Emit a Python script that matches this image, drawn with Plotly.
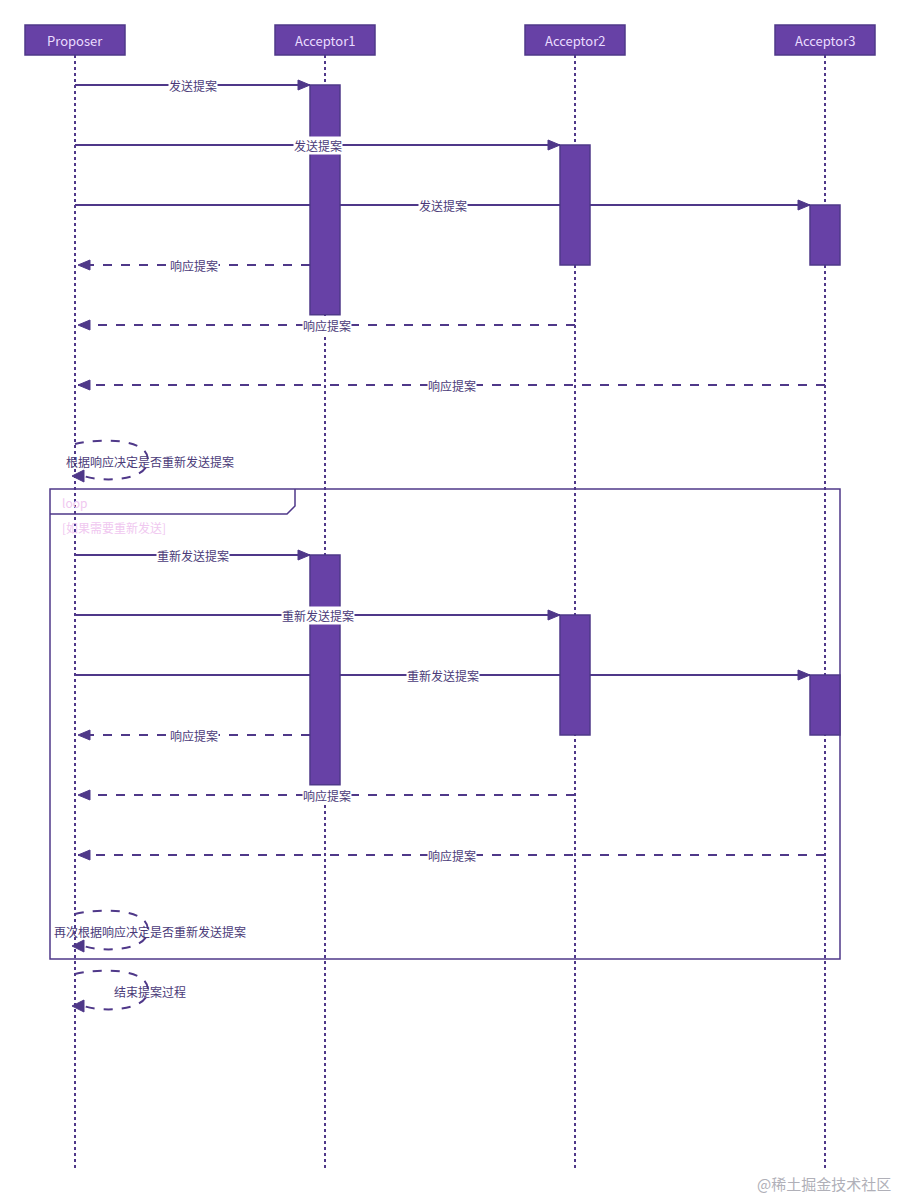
import plotly.graph_objects as go

participants = ["Proposer", "Acceptor1", "Acceptor2", "Acceptor3"]
part_x = [75, 325, 575, 825]
# (from, to, label, dashed)
round1 = [(0, 1, "发送提案", False), (0, 2, "发送提案", False), (0, 3, "发送提案", False),
          (1, 0, "响应提案", True), (2, 0, "响应提案", True), (3, 0, "响应提案", True)]
round2 = [(0, 1, "重新发送提案", False), (0, 2, "重新发送提案", False), (0, 3, "重新发送提案", False),
          (1, 0, "响应提案", True), (2, 0, "响应提案", True), (3, 0, "响应提案", True)]
# activations: (participant, start row, end row)
activations = [(1, 0, 3.83), (2, 1, 3), (3, 2, 3)]
self_msgs = ["根据响应决定是否重新发送提案", "再次根据响应决定是否重新发送提案", "结束提案过程"]
self_y = [460, 930, 990]
start1, start2, step = 85, 555, 60
loop_label, loop_cond = "loop", "[如果需要重新发送]"

LINE = "#4f3889"
FILL = "#6741a6"
TXT = "#4a3a78"
shapes, ann = [], []

def arrowhead(x, y, direction):
    d = 12 * direction
    return dict(type="path", path=f"M{x},{y} L{x-d},{y-5} L{x-d},{y+5} Z",
                fillcolor=LINE, line=dict(color=LINE, width=1), layer="above")

for x in part_x:
    shapes.append(dict(type="line", x0=x, x1=x, y0=55, y1=1170,
                       line=dict(color=LINE, width=2, dash="dot"), layer="below"))
for name, x in zip(participants, part_x):
    shapes.append(dict(type="rect", x0=x-50, x1=x+50, y0=25, y1=55,
                       fillcolor=FILL, line=dict(color=LINE, width=1.5)))
    ann.append(dict(x=x, y=40, text=name, showarrow=False,
                    font=dict(size=13, color="#eadcff")))

shapes.append(dict(type="rect", x0=50, x1=840, y0=489, y1=959,
                   line=dict(color=LINE, width=1.5), fillcolor="rgba(0,0,0,0)"))
shapes.append(dict(type="path", path="M50,514 L287,514 L295,506 L295,489",
                   line=dict(color=LINE, width=1.5)))
ann.append(dict(x=60, y=502, text=loop_label, showarrow=False, xanchor="left",
                font=dict(size=12, color="#f0c8f0")))
ann.append(dict(x=60, y=527, text=loop_cond, showarrow=False, xanchor="left",
                font=dict(size=12, color="#f0c8f0")))

for msgs, start in [(round1, start1), (round2, start2)]:
    for p, r0, r1 in activations:
        shapes.append(dict(type="rect", x0=part_x[p]-15, x1=part_x[p]+15,
                           y0=start + r0 * step, y1=start + r1 * step,
                           fillcolor=FILL, line=dict(color=LINE, width=1.5), layer="above"))
    for i, (f, t, lab, dashed) in enumerate(msgs):
        y = start + i * step
        x0 = part_x[f]
        x1 = part_x[t] - 15 if not dashed else part_x[t] + 3
        if dashed and f == 1:
            x0 = part_x[f] - 15
        shapes.append(dict(type="line", x0=x0, x1=x1, y0=y, y1=y, layer="below",
                           line=dict(color=LINE, width=2, dash="dash" if dashed else "solid")))
        shapes.append(arrowhead(x1, y, 1 if not dashed else -1))
        ann.append(dict(x=(x0 + x1) / 2, y=y, text=lab, showarrow=False, bgcolor="white",
                        borderpad=0, font=dict(size=12, color=TXT)))

for lab, y in zip(self_msgs, self_y):
    shapes.append(dict(type="path", layer="above",
                       path=f"M75,{y-16} C100,{y-22} 148,{y-22} 148,{y} C148,{y+22} 100,{y+22} 84,{y+16}",
                       line=dict(color=LINE, width=2, dash="dash")))
    shapes.append(dict(type="path", path=f"M72,{y+16} L84,{y+10} L84,{y+22} Z",
                       fillcolor=LINE, line=dict(color=LINE, width=1), layer="above"))
    ann.append(dict(x=150, y=y + 1, text=lab, showarrow=False,
                    font=dict(size=12, color=TXT)))

ann.append(dict(x=893, y=1183, text="@稀土掘金技术社区", showarrow=False, xanchor="right",
                font=dict(size=15, color="#b0b0b8", family="Noto Sans CJK SC")))

fig = go.Figure()
fig.add_trace(go.Scatter(x=[0], y=[0], mode="markers", marker=dict(opacity=0), hoverinfo="skip"))
fig.update_layout(width=900, height=1200, margin=dict(l=0, r=0, t=0, b=0),
                  plot_bgcolor="white", paper_bgcolor="white", showlegend=False,
                  shapes=shapes, annotations=ann,
                  font=dict(family="Noto Sans CJK SC"),
                  xaxis=dict(range=[8, 908], visible=False, fixedrange=True),
                  yaxis=dict(range=[1208, 8], visible=False, fixedrange=True))
fig.write_html("out.html")
